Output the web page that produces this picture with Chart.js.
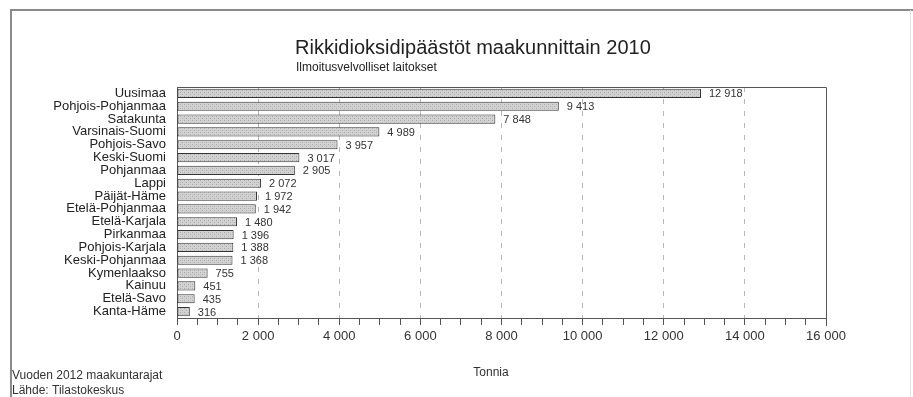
<!DOCTYPE html>
<html>
<head>
<meta charset="utf-8">
<script src="https://cdn.jsdelivr.net/npm/chart.js@4"></script>
<style>
  html, body { margin: 0; padding: 0; background: #fff; }
  #wrap { width: 913px; height: 397px; }
</style>
</head>
<body>
<div id="wrap"><canvas id="myChart" width="913" height="397"></canvas></div>
<script>
var maakunnat = ["Uusimaa", "Pohjois-Pohjanmaa", "Satakunta", "Varsinais-Suomi", "Pohjois-Savo",
  "Keski-Suomi", "Pohjanmaa", "Lappi", "Päijät-Häme", "Etelä-Pohjanmaa", "Etelä-Karjala",
  "Pirkanmaa", "Pohjois-Karjala", "Keski-Pohjanmaa", "Kymenlaakso", "Kainuu", "Etelä-Savo", "Kanta-Häme"];
var tonnia = [12918, 9413, 7848, 4989, 3957, 3017, 2905, 2072, 1972, 1942, 1480, 1396, 1388, 1368, 755, 451, 435, 316];
var xTicks = [0, 2000, 4000, 6000, 8000, 10000, 12000, 14000, 16000];

var otsikko = "Rikkidioksidipäästöt maakunnittain 2010";
var alaotsikko = "Ilmoitusvelvolliset laitokset";
var huomautus = ["Vuoden 2012 maakuntarajat", "Lähde: Tilastokeskus"];

function fmt(v) {
  return String(v).replace(/\B(?=(\d{3})+(?!\d))/g, ' ');
}

// harmaa pistekuvio palkkeihin
var pc = document.createElement('canvas');
pc.width = 4; pc.height = 4;
var pctx = pc.getContext('2d');
pctx.fillStyle = '#d3d3d3'; pctx.fillRect(0, 0, 4, 4);
pctx.fillStyle = '#a9a9a9'; pctx.fillRect(0, 0, 1, 1); pctx.fillRect(2, 2, 1, 1);
pctx.fillStyle = '#c4c4c4'; pctx.fillRect(2, 0, 1, 1); pctx.fillRect(0, 2, 1, 1);
var kuvio = pctx.createPattern(pc, 'repeat');

var tekstit = {
  id: 'tekstit',
  afterDatasetsDraw(chart) {
    const ctx = chart.ctx;
    const area = chart.chartArea;
    ctx.save();
    // arvot palkkien perään
    ctx.font = '11px "Liberation Sans", Arial, sans-serif';
    ctx.fillStyle = '#333';
    ctx.textBaseline = 'middle';
    ctx.textAlign = 'left';
    chart.getDatasetMeta(0).data.forEach((bar, i) => {
      ctx.fillText(fmt(tonnia[i]), bar.x + 8, bar.y + 1);
    });
    // kehys ylä + oikea
    ctx.strokeStyle = '#555';
    ctx.lineWidth = 1;
    ctx.beginPath();
    ctx.moveTo(area.left, area.top + 0.5);
    ctx.lineTo(area.right + 0.5, area.top + 0.5);
    ctx.lineTo(area.right + 0.5, area.bottom + 8);
    ctx.stroke();
    ctx.restore();
  },
  afterDraw(chart) {
    const ctx = chart.ctx;
    ctx.save();
    // ulkokehys
    ctx.strokeStyle = '#8a8a8a';
    ctx.lineWidth = 2;
    ctx.beginPath();
    ctx.moveTo(11, 397);
    ctx.lineTo(11, 10);
    ctx.lineTo(913, 10);
    ctx.stroke();
    ctx.strokeStyle = '#e4e4e4';
    ctx.lineWidth = 1;
    ctx.beginPath();
    ctx.moveTo(910.5, 10);
    ctx.lineTo(910.5, 397);
    ctx.stroke();

    ctx.fillStyle = '#222';
    ctx.textBaseline = 'middle';
    ctx.textAlign = 'left';
    ctx.font = '20px "Liberation Sans", Arial, sans-serif';
    ctx.fillText(otsikko, 295, 48);
    ctx.font = '12px "Liberation Sans", Arial, sans-serif';
    ctx.fillText(alaotsikko, 296, 68);

    ctx.font = '12px "Liberation Sans", Arial, sans-serif';
    ctx.fillStyle = '#333';
    ctx.fillText(huomautus[0], 12, 376);
    ctx.fillText(huomautus[1], 12, 391);

    ctx.textAlign = 'center';
    ctx.font = '12px "Liberation Sans", Arial, sans-serif';
    ctx.fillText("Tonnia", 491, 373);
    ctx.restore();
  }
};

new Chart("myChart", {
  type: "bar",
  data: {
    labels: maakunnat,
    datasets: [{
      data: tonnia,
      backgroundColor: kuvio,
      borderColor: '#333',
      borderWidth: 1,
      borderSkipped: false,
      barPercentage: 0.72,
      categoryPercentage: 1
    }]
  },
  options: {
    indexAxis: 'y',
    responsive: false,
    animation: false,
    layout: { padding: { left: 0, top: 87, right: 87, bottom: 0 } },
    plugins: {
      legend: { display: false },
      title: { display: false },
      tooltip: { enabled: false }
    },
    scales: {
      x: {
        min: 0,
        max: 16000,
        afterFit: function (scale) { scale.height = 79; },
        afterBuildTicks: function (scale) {
          var t = [];
          for (var v = 0; v <= 16000; v += 500) t.push({ value: v });
          scale.ticks = t;
        },
        ticks: {
          autoSkip: false,
          maxRotation: 0,
          padding: 4,
          color: '#333',
          font: { family: '"Liberation Sans", Arial, sans-serif', size: 13 },
          callback: function (v) { return xTicks.indexOf(v) >= 0 ? fmt(v) : ''; }
        },
        grid: {
          drawOnChartArea: true,
          drawTicks: true,
          tickLength: 7,
          lineWidth: 1,
          color: function (c) {
            var v = c.tick ? c.tick.value : -1;
            return (v > 0 && v < 16000 && v % 2000 === 0) ? '#b8b8b8' : 'rgba(0,0,0,0)';
          },
          tickColor: '#555'
        },
        border: { display: true, color: '#555', width: 1, dash: [5, 7] }
      },
      y: {
        afterFit: function (scale) { scale.width = 177; },
        ticks: {
          padding: 11,
          color: '#222',
          autoSkip: false,
          font: { family: '"Liberation Sans", Arial, sans-serif', size: 13 }
        },
        grid: { display: false, drawTicks: false },
        border: { display: true, color: '#555', width: 1 }
      }
    }
  },
  plugins: [tekstit]
});
</script>
</body>
</html>
